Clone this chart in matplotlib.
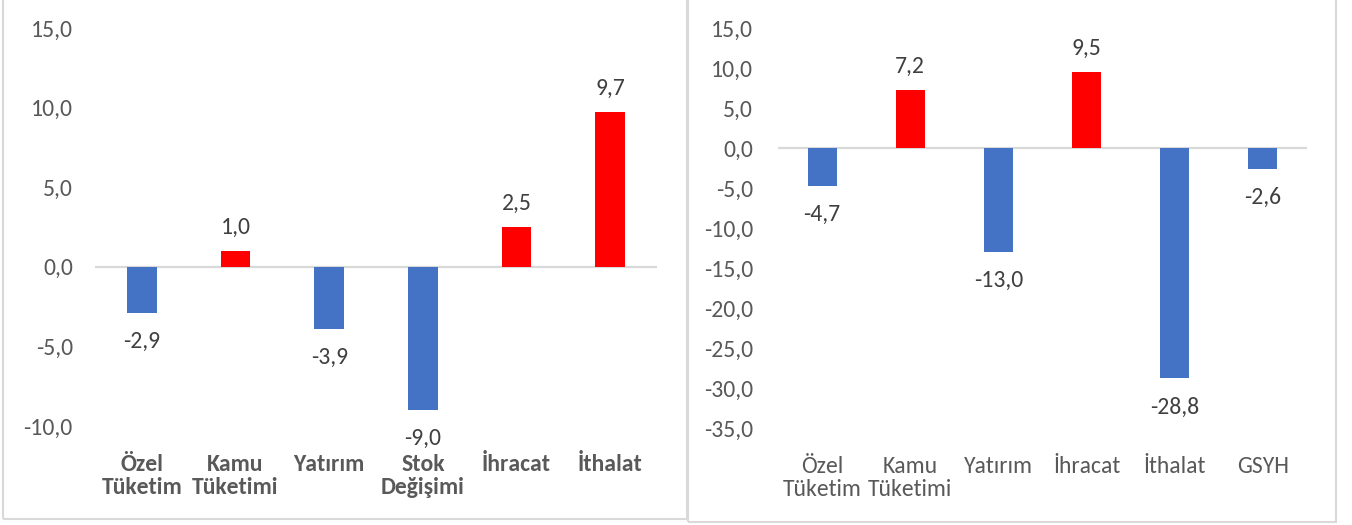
import matplotlib.pyplot as plt
from matplotlib.patches import Rectangle

# left chart
left_categories = ["Özel\nTüketim", "Kamu\nTüketimi", "Yatırım", "Stok\nDeğişimi", "İhracat", "İthalat"]
left_values = [-2.9, 1.0, -3.9, -9.0, 2.5, 9.7]
left_ticks = [-10, -5, 0, 5, 10, 15]

# right chart
right_categories = ["Özel\nTüketim", "Kamu\nTüketimi", "Yatırım", "İhracat", "İthalat", "GSYH"]
right_values = [-4.7, 7.2, -13.0, 9.5, -28.8, -2.6]
right_ticks = [-35, -30, -25, -20, -15, -10, -5, 0, 5, 10, 15]

BLUE = "#4472C4"
RED = "#FF0000"
FS = 17
plt.rcParams["font.family"] = ["Carlito", "Lato", "DejaVu Sans"]


def fmt(v):
    return f"{v:.1f}".replace(".", ",")


def draw_panel(ax, cats, vals, ticks, width, bold_labels, ypad, xpad):
    x = range(len(cats))
    colors = [RED if v > 0 else BLUE for v in vals]
    ax.bar(x, vals, width=width, color=colors, zorder=3)
    ax.axhline(0, color="#D9D9D9", lw=1.6, zorder=2)
    ax.set_xlim(-0.5, len(cats) - 0.5)
    ax.set_ylim(ticks[0], ticks[-1])
    ax.set_yticks(ticks)
    ax.set_yticklabels([fmt(t) for t in ticks], color="#595959", fontsize=FS)
    ax.set_xticks(list(x))
    ax.set_xticklabels(cats, color="#595959", fontsize=FS,
                       fontweight="bold" if bold_labels else "normal",
                       linespacing=1.15)
    ax.tick_params(axis="both", length=0)
    ax.tick_params(axis="x", pad=xpad)
    ax.tick_params(axis="y", pad=ypad)
    for s in ax.spines.values():
        s.set_visible(False)
    for i, v in enumerate(vals):
        off = 17 if v > 0 else -20.5
        ax.annotate(fmt(v), (i, v), xytext=(0, off), textcoords="offset points",
                    ha="center", va="center", fontsize=FS, color="#404040",
                    annotation_clip=False)


fig = plt.figure(figsize=(13.52, 5.25), dpi=100)
W, H = 1352, 525

# panel frames
fig.patches.append(Rectangle((3 / W, 1 - 519 / H), 684 / W, 530 / H, transform=fig.transFigure,
                             fill=False, edgecolor="#D9D9D9", lw=1.5))
fig.patches.append(Rectangle((688 / W, 1 - 522 / H), 648 / W, 530 / H, transform=fig.transFigure,
                             fill=False, edgecolor="#D9D9D9", lw=1.5))

ax1 = fig.add_axes([95 / W, 1 - 426 / H, 562 / W, 398 / H])
draw_panel(ax1, left_categories, left_values, left_ticks, 0.32, True, 16, 20)

ax2 = fig.add_axes([778 / W, 1 - 428 / H, 529 / W, 400 / H])
draw_panel(ax2, right_categories, right_values, right_ticks, 0.33, False, 18, 20)

fig.savefig("out.png", dpi=100)
